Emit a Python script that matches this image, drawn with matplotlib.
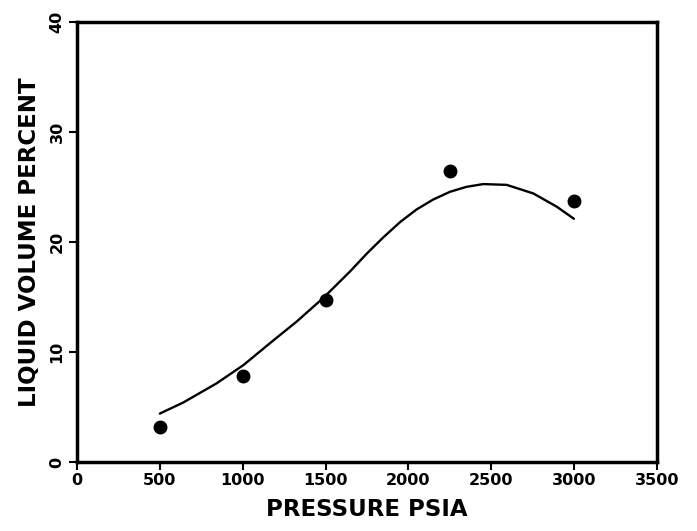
import matplotlib
matplotlib.use("Agg")
import matplotlib.pyplot as plt

# measured points
pressure = [500, 1000, 1500, 2250, 3000]
liquid_pct = [3.2, 7.8, 14.7, 26.4, 23.7]

# smooth curve, points
curve_p = [500, 641, 843, 1004, 1165, 1325, 1486, 1647, 1750, 1848,
           1950, 2050, 2150, 2251, 2350, 2452, 2593, 2754, 2895, 2999]
curve_v = [4.4, 5.4, 7.15, 8.8, 10.8, 12.75, 14.9, 17.3, 18.95, 20.4,
           21.8, 22.95, 23.85, 24.55, 25.0, 25.25, 25.18, 24.4, 23.2, 22.1]

x_ticks = [0, 500, 1000, 1500, 2000, 2500, 3000, 3500]
y_ticks = [0, 10, 20, 30, 40]

fig = plt.figure(figsize=(6.97, 5.31), dpi=100)
ax = fig.add_axes([0.1105, 0.130, 0.832, 0.829])

ax.plot(curve_p, curve_v, color="black", lw=1.7,
        solid_capstyle="round", solid_joinstyle="round")
ax.plot(pressure, liquid_pct, "o", color="black", ms=9)

ax.set_xlim(0, 3500)
ax.set_ylim(0, 40)
ax.set_xticks(x_ticks)
ax.set_yticks(y_ticks)
ax.set_xticklabels([str(t) for t in x_ticks], fontsize=11.5, fontweight="heavy")
ax.set_yticklabels([str(t) for t in y_ticks], fontsize=11.5, fontweight="heavy",
                   rotation=90, va="center")
ax.tick_params(axis="both", direction="out", length=6, width=1.5, color="black")
ax.tick_params(axis="y", pad=3)
ax.tick_params(axis="x", pad=2)

for s in ax.spines.values():
    s.set_linewidth(2.5)

ax.set_xlabel("PRESSURE PSIA", fontsize=16.5, fontweight="heavy", labelpad=7)
ax.set_ylabel("LIQUID VOLUME PERCENT", fontsize=16.5, fontweight="heavy", labelpad=6)

fig.savefig("out.png", dpi=100)
